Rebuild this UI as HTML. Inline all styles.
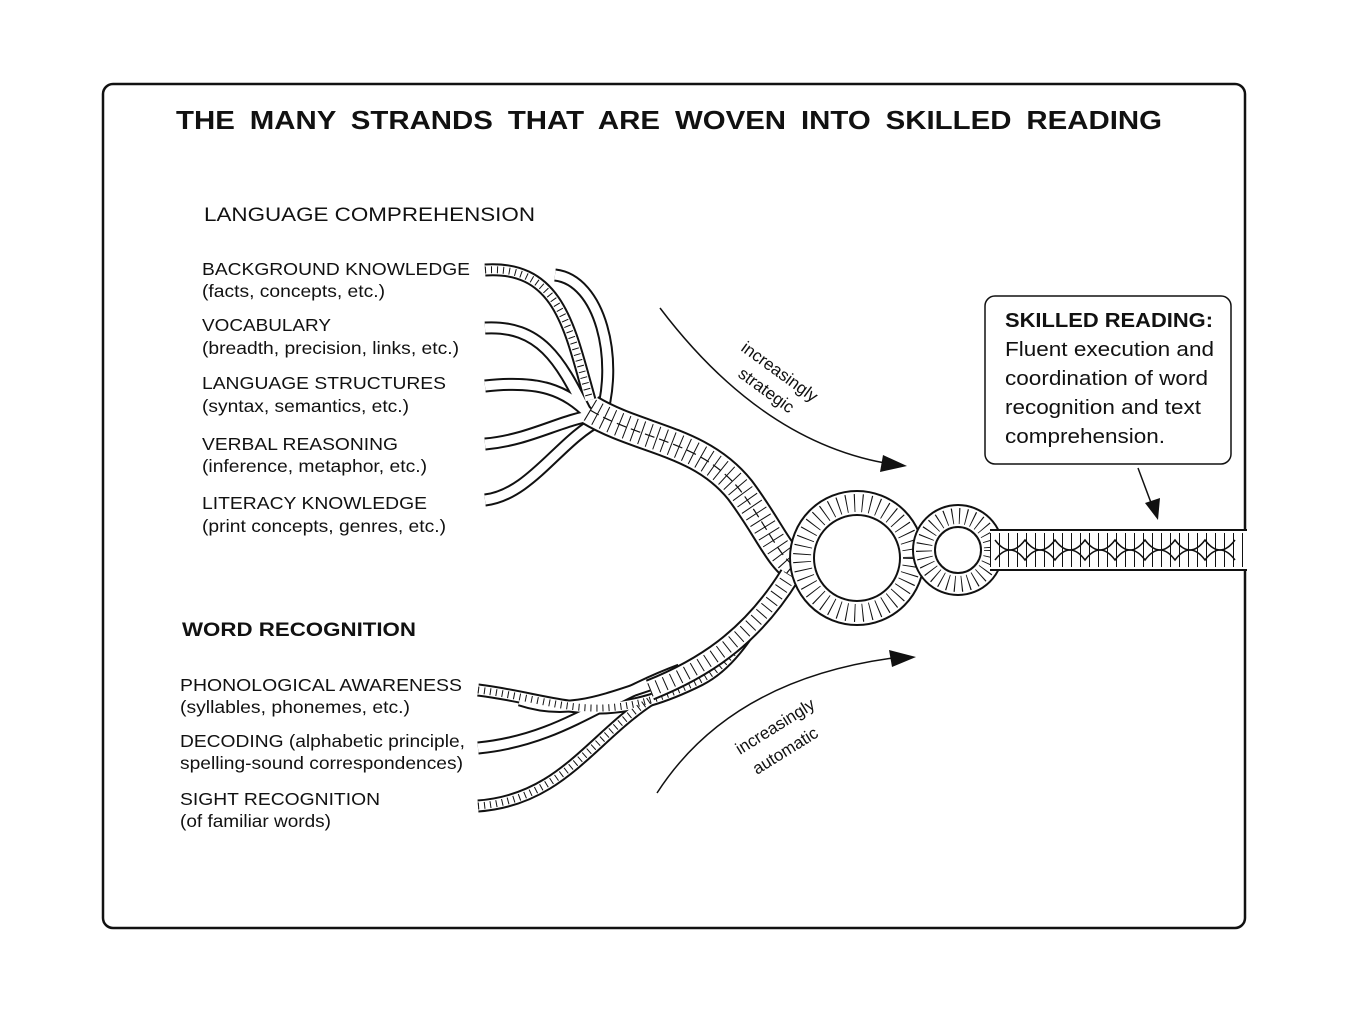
<!DOCTYPE html>
<html><head><meta charset="utf-8"><style>
html,body{margin:0;padding:0;background:#fff;}
svg{display:block;}
text{font-family:"Liberation Sans",Arial,sans-serif;fill:#111;}
</style></head><body>
<svg width="1349" height="1013" viewBox="0 0 1349 1013" xmlns="http://www.w3.org/2000/svg">
<rect x="103" y="84" width="1142" height="844" rx="10" fill="#fff" stroke="#111" stroke-width="2.5"/>
<text x="176" y="129" font-size="26" font-weight="bold" word-spacing="6" textLength="986" lengthAdjust="spacingAndGlyphs">THE MANY STRANDS THAT ARE WOVEN INTO SKILLED READING</text>

<g font-size="19">
<text x="204" y="221" textLength="331" lengthAdjust="spacingAndGlyphs">LANGUAGE COMPREHENSION</text>
<text x="182" y="636" font-weight="bold" textLength="234" lengthAdjust="spacingAndGlyphs">WORD RECOGNITION</text>
</g>
<g font-size="17.5">
<text x="202" y="275" textLength="268" lengthAdjust="spacingAndGlyphs">BACKGROUND KNOWLEDGE</text>
<text x="202" y="297" textLength="183" lengthAdjust="spacingAndGlyphs">(facts, concepts, etc.)</text>
<text x="202" y="331" textLength="129" lengthAdjust="spacingAndGlyphs">VOCABULARY</text>
<text x="202" y="354" textLength="257" lengthAdjust="spacingAndGlyphs">(breadth, precision, links, etc.)</text>
<text x="202" y="389" textLength="244" lengthAdjust="spacingAndGlyphs">LANGUAGE STRUCTURES</text>
<text x="202" y="412" textLength="207" lengthAdjust="spacingAndGlyphs">(syntax, semantics, etc.)</text>
<text x="202" y="450" textLength="196" lengthAdjust="spacingAndGlyphs">VERBAL REASONING</text>
<text x="202" y="472" textLength="225" lengthAdjust="spacingAndGlyphs">(inference, metaphor, etc.)</text>
<text x="202" y="509" textLength="225" lengthAdjust="spacingAndGlyphs">LITERACY KNOWLEDGE</text>
<text x="202" y="532" textLength="244" lengthAdjust="spacingAndGlyphs">(print concepts, genres, etc.)</text>
<text x="180" y="691" textLength="282" lengthAdjust="spacingAndGlyphs">PHONOLOGICAL AWARENESS</text>
<text x="180" y="713" textLength="230" lengthAdjust="spacingAndGlyphs">(syllables, phonemes, etc.)</text>
<text x="180" y="747" textLength="285" lengthAdjust="spacingAndGlyphs">DECODING (alphabetic principle,</text>
<text x="180" y="769" textLength="283" lengthAdjust="spacingAndGlyphs">spelling-sound correspondences)</text>
<text x="180" y="805" textLength="200" lengthAdjust="spacingAndGlyphs">SIGHT RECOGNITION</text>
<text x="180" y="827" textLength="151" lengthAdjust="spacingAndGlyphs">(of familiar words)</text>
</g>

<rect x="985" y="296" width="246" height="168" rx="10" fill="#fff" stroke="#111" stroke-width="1.5"/>
<g font-size="20">
<text x="1005" y="327" font-weight="bold" textLength="208" lengthAdjust="spacingAndGlyphs">SKILLED READING:</text>
<text x="1005" y="356" textLength="209" lengthAdjust="spacingAndGlyphs">Fluent execution and</text>
<text x="1005" y="385" textLength="203" lengthAdjust="spacingAndGlyphs">coordination of word</text>
<text x="1005" y="414" textLength="196" lengthAdjust="spacingAndGlyphs">recognition and text</text>
<text x="1005" y="443" textLength="160" lengthAdjust="spacingAndGlyphs">comprehension.</text>
</g>

<!-- arrows -->
<g fill="none" stroke="#111" stroke-width="1.5">
<path d="M660 308 Q760 440 885 463"/>
<path d="M657 793 Q730 680 893 658"/>
<path d="M1138 468 L1153 508"/>
</g>
<polygon points="907,466 880,472 883,455" fill="#111"/>
<polygon points="916,657 892,667 889,650" fill="#111"/>
<polygon points="1158,520 1145,503 1160,498" fill="#111"/>
<text font-size="17" transform="translate(740,350) rotate(36)">increasingly</text>
<text font-size="17" transform="translate(737,376) rotate(36)">strategic</text>
<text font-size="17" transform="translate(740,755) rotate(-32)">increasingly</text>
<text font-size="17" transform="translate(757,775) rotate(-32)">automatic</text>

<!-- rope -->
<g fill="none" stroke-linecap="butt">
 <g stroke="#111" stroke-width="13">
  <path d="M485 270 C560 265 570 330 590 400"/>
  <path d="M485 328 C540 325 560 360 585 410"/>
  <path d="M485 386 C540 380 565 390 590 415"/>
  <path d="M485 444 C530 440 560 420 595 415"/>
  <path d="M485 500 C530 495 560 440 600 420"/>
  <path d="M555 275 C600 280 620 360 600 420"/>
  <path d="M478 690 C560 700 600 730 700 680 C740 660 760 610 790 570"/>
  <path d="M478 748 C560 740 600 700 680 670"/>
  <path d="M478 806 C560 800 590 740 650 700"/>
  <path d="M520 700 C580 720 620 690 700 670"/>
 </g>
 <g stroke="#fff" stroke-width="9">
  <path d="M485 270 C560 265 570 330 590 400"/>
  <path d="M485 328 C540 325 560 360 585 410"/>
  <path d="M485 386 C540 380 565 390 590 415"/>
  <path d="M485 444 C530 440 560 420 595 415"/>
  <path d="M485 500 C530 495 560 440 600 420"/>
  <path d="M555 275 C600 280 620 360 600 420"/>
  <path d="M478 690 C560 700 600 730 700 680 C740 660 760 610 790 570"/>
  <path d="M478 748 C560 740 600 700 680 670"/>
  <path d="M478 806 C560 800 590 740 650 700"/>
  <path d="M520 700 C580 720 620 690 700 670"/>
 </g>
 <g stroke="#111" stroke-width="7" stroke-dasharray="1 5">
  <path d="M485 270 C560 265 570 330 590 400"/>
  <path d="M478 690 C560 700 600 730 700 680 C740 660 760 610 790 570"/>
  <path d="M478 806 C560 800 590 740 650 700"/>
 </g>
 <!-- upper twisted rope -->
 <path d="M590 410 C640 440 700 440 740 490 C770 530 780 560 800 570" stroke="#111" stroke-width="32"/>
 <path d="M590 410 C640 440 700 440 740 490 C770 530 780 560 800 570" stroke="#fff" stroke-width="28"/>
 <path d="M590 410 C640 440 700 440 740 490 C770 530 780 560 800 570" stroke="#111" stroke-width="24" stroke-dasharray="1 7"/>
 <path d="M590 410 C640 440 700 440 740 490 C770 530 780 560 800 570" stroke="#111" stroke-width="1.2" stroke-dasharray="10 5"/>
 <!-- lower braid -->
 <path d="M650 690 C700 670 750 640 790 575" stroke="#111" stroke-width="22"/>
 <path d="M650 690 C700 670 750 640 790 575" stroke="#fff" stroke-width="18"/>
 <path d="M650 690 C700 670 750 640 790 575" stroke="#111" stroke-width="14" stroke-dasharray="1 7"/>
 <!-- loops -->
 <circle cx="857" cy="558" r="55" stroke="#111" stroke-width="26"/>
 <circle cx="857" cy="558" r="55" stroke="#fff" stroke-width="22"/>
 <circle cx="857" cy="558" r="55" stroke="#111" stroke-width="18" stroke-dasharray="1 7"/>
 <circle cx="958" cy="550" r="34" stroke="#111" stroke-width="24"/>
 <circle cx="958" cy="550" r="34" stroke="#fff" stroke-width="20"/>
 <circle cx="958" cy="550" r="34" stroke="#111" stroke-width="16" stroke-dasharray="1 6"/>
 <path d="M990 550 L1247 550" stroke="#111" stroke-width="42"/>
 <path d="M990 550 L1247 550" stroke="#fff" stroke-width="38"/>
 <path d="M990 550 L1247 550" stroke="#111" stroke-width="34" stroke-dasharray="1 8"/>
 <path d="M995 540 Q1010 560 1025 540 Q1040 560 1055 540 Q1070 560 1085 540 Q1100 560 1115 540 Q1130 560 1145 540 Q1160 560 1175 540 Q1190 560 1205 540 Q1220 560 1235 540" stroke="#111" stroke-width="1.5"/>
 <path d="M995 560 Q1010 540 1025 560 Q1040 540 1055 560 Q1070 540 1085 560 Q1100 540 1115 560 Q1130 540 1145 560 Q1160 540 1175 560 Q1190 540 1205 560 Q1220 540 1235 560" stroke="#111" stroke-width="1.5"/>
</g>
</svg>
</body></html>
